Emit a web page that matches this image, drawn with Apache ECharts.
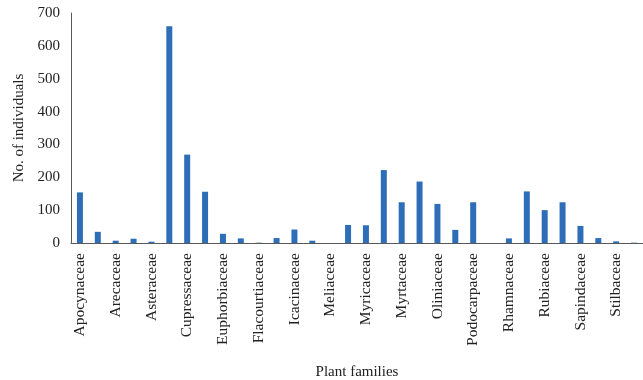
<!DOCTYPE html>
<html>
<head>
<meta charset="utf-8">
<script src="https://cdn.jsdelivr.net/npm/echarts@6/dist/echarts.min.js"></script>
<style>html,body{margin:0;padding:0;background:#fff}#c{width:643px;height:380px}</style>
</head>
<body>
<div id="c"></div>
<script>
const families = ['Apocynaceae','Aquifoliaceae','Arecaceae','Asparagaceae','Asteraceae','Celastraceae','Cupressaceae','Ebenaceae','Euphorbiaceae','Fabaceae','Flacourtiaceae','Hypericaceae','Icacinaceae','Lauraceae','Meliaceae','Moraceae','Myricaceae','Myrsinaceae','Myrtaceae','Ochnaceae','Oliniaceae','Pittosporaceae','Podocarpaceae','Proteaceae','Rhamnaceae','Rosaceae','Rubiaceae','Rutaceae','Sapindaceae','Sapotaceae','Stilbaceae','Vitaceae'];
const individuals = [154,34,7,13,4,660,269,156,28,14,1,15,41,7,0,55,54,222,124,187,119,40,124,0,14,157,100,124,52,15,5,1];
const yTicks = [0,100,200,300,400,500,600,700];

const font = 'Liberation Serif';
const chart = echarts.init(document.getElementById('c'));
chart.setOption({
  animation:false,
  grid:{left:71,right:0,top:13,bottom:137,containLabel:false,outerBoundsMode:'none'},
  xAxis:{
    type:'category', data:families,
    name:'Plant families', nameLocation:'middle', nameGap:122,
    nameTextStyle:{fontFamily:font,fontSize:15,color:'#222'},
    axisLine:{lineStyle:{color:'#595959',width:1}},
    axisTick:{show:false},
    axisLabel:{rotate:90,interval:1,fontFamily:font,fontSize:15.5,color:'#222',margin:10}
  },
  yAxis:{
    type:'value', min:yTicks[0], max:yTicks[yTicks.length-1], interval:100,
    name:'No. of individuals', nameLocation:'middle', nameGap:43,
    nameTextStyle:{fontFamily:font,fontSize:15,color:'#222'},
    axisLine:{show:true,lineStyle:{color:'#595959',width:1}},
    axisTick:{show:false},
    splitLine:{show:false},
    axisLabel:{fontFamily:font,fontSize:15,color:'#222',margin:11}
  },
  series:[{type:'bar',data:individuals,barWidth:6,itemStyle:{color:'#2e6eb8'}}]
});
</script>
</body>
</html>
